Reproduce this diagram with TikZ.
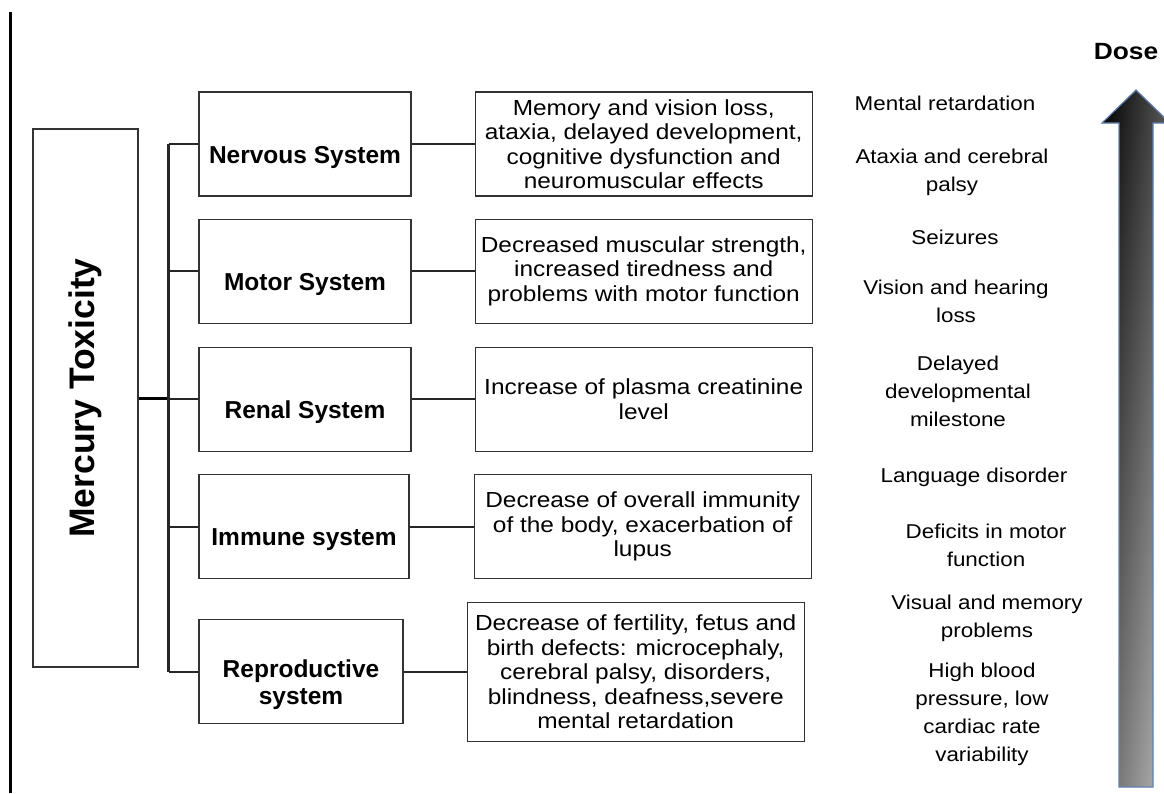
\documentclass[tikz,border=0pt]{standalone}
\usepackage{fontspec}
\setmainfont{Liberation Sans}[FakeStretch=1.12]
\newfontfamily\hgfont{Liberation Sans}
\usetikzlibrary{positioning}

\definecolor{arrowblue}{RGB}{95,130,175}

\tikzset{
  hgbox/.style={draw=black!80, line width=1.2pt, minimum width=105pt, minimum height=538pt, inner sep=0pt},
  sysbox/.style={draw=black!80, line width=1.2pt, minimum height=104pt, inner sep=0pt},
  syslabel/.style={font=\hgfont\fontsize{24.5}{27}\selectfont\bfseries, align=center, yshift=-13pt, inner sep=0pt},
  descbox/.style={draw=black!80, line width=1.2pt, minimum width=337pt, minimum height=104pt, inner sep=0pt, align=center, font=\fontsize{21.8}{24.5}\selectfont},
  effect/.style={align=center, inner sep=0pt, font=\fontsize{20}{28}\selectfont},
  branch/.style={black!85, line width=2pt},
}

\begin{document}
\begin{tikzpicture}[x=1pt, y=-1pt]
  \useasboundingbox (0,0) rectangle (1164,793);

  % left rule
  \coordinate (rt) at (10.5,12);
  \coordinate (rb) at (10.5,793);
  \draw[line width=3pt] (rt) -- (rb);

  \node[hgbox] (hg) at (85.5,398) {\rotatebox{90}{\hgfont\bfseries\fontsize{35.5}{35.5}\selectfont Mercury Toxicity}};

  % systems
  \node[sysbox, minimum width=212pt, label={[syslabel]center:Nervous System}] (nerv) at (305,144) {};
  \node[sysbox, minimum width=212pt, below=22pt of nerv, label={[syslabel]center:Motor System}] (motor) {};
  \node[sysbox, minimum width=212pt, below=23pt of motor, label={[syslabel]center:Renal System}] (renal) {};
  \node[sysbox, minimum width=210pt, below=22pt of renal.south west, anchor=north west, label={[syslabel]center:Immune system}] (immune) {};
  \node[sysbox, minimum width=204pt, below=40pt of immune.south west, anchor=north west, label={[syslabel]center:{Reproductive\\system}}] (repro) {};

  % effects per system
  \node[descbox, right=63pt of nerv] (nervfx) {Memory and vision loss,\\ataxia, delayed development,\\cognitive dysfunction and\\neuromuscular effects};
  \node[descbox, right=63pt of motor] (motorfx) {Decreased muscular strength,\\increased tiredness and\\problems with motor function};
  \node[descbox, right=63pt of renal] (renalfx) {Increase of plasma creatinine\\level};
  \node[descbox, right=64pt of immune] (immunefx) {Decrease of overall immunity\\of the body, exacerbation of\\lupus};
  \node[descbox, minimum height=139pt, right=63pt of repro] (reprofx) {Decrease of fertility, fetus and\\birth defects: microcephaly,\\cerebral palsy, disorders,\\blindness, deafness,severe\\mental retardation};

  % tree
  \coordinate (trunk) at (168.5,398);
  \draw[line width=3pt] (hg.east) -- (trunk);
  \draw[line width=2.5pt, black!85] (trunk |- nerv.west) -- (trunk |- repro.west);
  \foreach \s/\f in {nerv/nervfx, motor/motorfx, renal/renalfx, immune/immunefx, repro/reprofx} {
    \draw[branch] (trunk |- \s.west) -- (\s.west);
    \draw[branch] (\s.east) -- (\f.west);
  }

  % dose scale
  \node[effect] (mr) at (945,103) {Mental retardation};
  \node[effect] (acp) at (952,172) {Ataxia and cerebral\\palsy};
  \node[effect] (seiz) at (955,237) {Seizures};
  \node[effect] (vhl) at (956,301) {Vision and hearing\\loss};
  \node[effect] (ddm) at (958,391) {Delayed\\developmental\\milestone};
  \node[effect] (lang) at (974,477) {Language disorder};
  \node[effect] (dmf) at (986,545) {Deficits in motor\\function};
  \node[effect] (vmp) at (987,618) {Visual and memory\\problems};
  \node[effect] (hbp) at (982,714) {High blood\\pressure, low\\cardiac rate\\variability};

  \coordinate (tip) at (1136,90);
  \path[top color=black, bottom color=black!40,
    postaction={left color=black, right color=white, fill opacity=0.35},
    postaction={draw=arrowblue, line width=1.2pt}]
    (tip) -- (1170,123) -- (1153,123) -- (1153,787) -- (1119,787) -- (1119,123) -- (1102,123) -- cycle;
  \node[font=\fontsize{23.5}{23.5}\selectfont\bfseries] (dose) at (1126,52) {Dose};
\end{tikzpicture}
\end{document}
